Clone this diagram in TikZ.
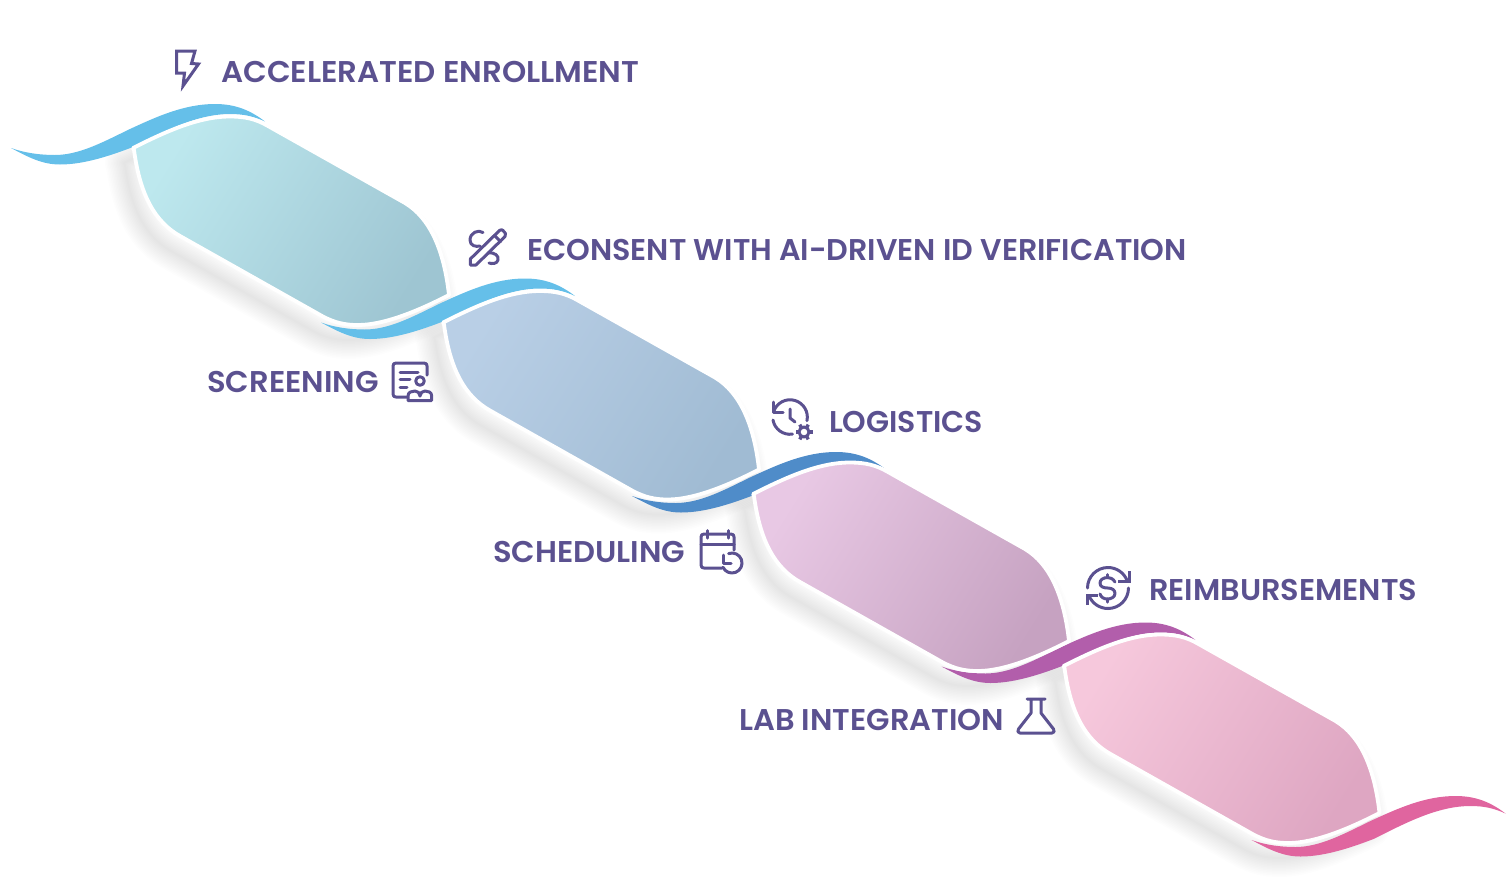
\documentclass[tikz,border=0pt]{standalone}
\usepackage{fontspec}
\setmainfont{Poppins SemiBold}
\definecolor{ink}{HTML}{5B5190}
\definecolor{ra}{HTML}{65BFE9}\definecolor{rb}{HTML}{65BFE9}\definecolor{rc}{HTML}{4F8CC9}\definecolor{rd}{HTML}{B25EAB}\definecolor{re}{HTML}{E0659F}
\definecolor{aa}{HTML}{BDE8EE}\definecolor{ab}{HTML}{9EC5D2}
\definecolor{ba}{HTML}{B9CFE6}\definecolor{bb}{HTML}{A0BBD3}
\definecolor{ca}{HTML}{E8C8E4}\definecolor{cb}{HTML}{C6A2C1}
\definecolor{da}{HTML}{F6C8DC}\definecolor{db}{HTML}{DEA6C2}
\newcommand\blobpath{(133,148) .. controls (165,132) and (198,116.5) .. (230,116.5) .. controls (245,116.5) and (256,119) .. (268,126) -- (405,203) .. controls (430,218) and (444,250) .. (449,295) .. controls (420,310) and (385,325) .. (358,325) .. controls (345,325) and (335,323) .. (322,316) -- (180,236) .. controls (155,222) and (140,195) .. (134,150) -- cycle}
\newcommand\ribbonpath{(11,148) .. controls (28,157) and (42,164.5) .. (60,164.5) .. controls (85,164.5) and (112,155) .. (133,147) .. controls (165,131) and (197,114) .. (230,114) .. controls (243,114) and (253,116) .. (265,121.5) .. controls (250,110) and (235,104) .. (215,104) .. controls (185,104) and (158,116) .. (130,129) .. controls (105,141) and (80,155) .. (55,155) .. controls (40,155) and (25,153) .. (11,148) -- cycle}
\tikzset{
  lab/.style={text=ink,font=\fontsize{30}{32}\selectfont,inner sep=0pt,anchor=base west},
  ico/.style={draw=ink,line width=3pt,line cap=round,line join=round,fill=none},
  blobstyle/.style={draw=white,line width=3.8pt,line join=round,shading=axis,left color=#1a,right color=#1b,shading angle=58},
}
\begin{document}
\begin{tikzpicture}[x=1pt,y=-1pt]
\useasboundingbox (0,0) rectangle (1510,892);
% soft shadows
\foreach \dx/\dy in {0/0,310/174.5,620/346,930.5/518}{
  \begin{scope}[shift={(\dx-9,\dy+15)}]
    \foreach \w in {2,5,...,38}{
      \draw[black,opacity=0.006,line width=\w pt,line join=round] \blobpath;
    }
  \end{scope}
}
% ribbons
\foreach \dx/\dy/\c in {0/0/ra,310/174.5/rb,621/348/rc,930.5/518.5/rd,1240.5/692/re}{
  \begin{scope}[shift={(\dx,\dy)}]
    \fill[\c] \ribbonpath;
  \end{scope}
}
% blobs
\foreach \dx/\dy/\c in {0/0/a,310/174.5/b,620/346/c,930.5/518/d}{
  \begin{scope}[shift={(\dx,\dy)}]
    \path[blobstyle=\c] \blobpath;
  \end{scope}
}
% labels
\node[lab] (accel) at (221,82) {\scalebox{1.029}[1]{ACCELERATED ENROLLMENT}};
\node[lab] (econs) at (527,260) {\scalebox{1.007}[1]{ECONSENT WITH AI-DRIVEN ID VERIFICATION}};
\node[lab] (scree) at (207,392) {\scalebox{1.021}[1]{SCREENING}};
\node[lab] (logis) at (829,432) {LOGISTICS};
\node[lab] (sched) at (493,562) {\scalebox{1.02}[1]{SCHEDULING}};
\node[lab] (reimb) at (1149,600) {\scalebox{1.012}[1]{REIMBURSEMENTS}};
\node[lab] (labin) at (739,730) {\scalebox{1.017}[1]{LAB INTEGRATION}};
% lightning
\draw[ico,line cap=butt,line join=miter] (176.7,51) -- (195,51) -- (191.5,63.5) -- (198.5,64) -- (183,86) -- (184.5,73) -- (176.7,73) -- cycle;
% pen
\draw[ico] (470.3,265) -- (470.3,259) -- (499.5,230.5) .. controls (501,229.5) and (502,229.5) .. (503,230.5) -- (505.5,233.5) .. controls (506,234.5) and (506,235.5) .. (505,236.5) -- (476,265) -- cycle;
\draw[ico] (494.5,235.5) -- (500.5,241.5);
\draw[ico] (483,232.5) .. controls (478,229) and (470,233) .. (470,240) .. controls (470,246) and (476,247) .. (480,246);
\draw[ico] (488,253) .. controls (495,252) and (499,256) .. (498,260) .. controls (497,264) and (492,264) .. (489,263);
% screening
\draw[ico] (407,397) -- (396,397) .. controls (394,397) and (393,396) .. (393,394) -- (393,366) .. controls (393,364) and (394,363) .. (396,363) -- (424,363) .. controls (426,363) and (427,364) .. (427,366) -- (427,375);
\draw[ico] (400,372) -- (418,372) (400,379.5) -- (410,379.5) (400,387) -- (407,387);
\draw[ico] (420,381) circle[radius=4.3];
\draw[ico] (408,400.5) -- (408,396) .. controls (408,392) and (412,391) .. (415,391) .. controls (418,391) and (419.5,393) .. (420,396) .. controls (420.5,393) and (422,391) .. (425,391) .. controls (428,391) and (431.7,392) .. (431.7,396) -- (431.7,400.5) -- cycle;
% logistics
\draw[ico] (773,402) -- (773,412) -- (783,412);
\draw[ico] (773.5,412) arc[start angle=197,end angle=372,radius=17.3];
\draw[ico] (773,420) arc[start angle=170,end angle=82,radius=17.3];
\draw[ico] (790,409) -- (790,418) -- (795,422);
\draw[ico] (804,432) circle[radius=5];
\foreach \a in {0,60,...,300}{
  \draw[draw=ink,line width=3.4pt] ([shift={(\a:5)}]804,432) -- ([shift={(\a:8.5)}]804,432);
}
% scheduling
\draw[ico] (722,568) -- (704,568) .. controls (702,568) and (701,567) .. (701,565) -- (701,537) .. controls (701,535) and (702,534) .. (704,534) -- (731,534) .. controls (733,534) and (734,535) .. (734,537) -- (734,550);
\draw[ico] (701,544) -- (734,544) (707.5,530.5) -- (707.5,538) (728.5,530.5) -- (728.5,538);
\draw[ico] (723,555) -- (723,563) -- (731,563);
\draw[ico] (728.6,553.6) arc[start angle=250,end angle=515,radius=10];
% reimbursements
\draw[ico] (1087.5,588) arc[start angle=180,end angle=338,radius=20.5];
\draw[ico] (1128.5,588) arc[start angle=0,end angle=158,radius=20.5];
\draw[ico,line cap=butt,line join=miter] (1129,571) -- (1129,581) -- (1118,581);
\draw[ico,line cap=butt,line join=miter] (1087,605) -- (1087,595) -- (1098,595);
\draw[ico] (1115,582) .. controls (1113,578.5) and (1110,577.5) .. (1107.7,577.5) .. controls (1103,577.5) and (1100,580) .. (1100,583) .. controls (1100,587) and (1104,588) .. (1107.7,588) .. controls (1112,588) and (1115,590) .. (1115,593.5) .. controls (1115,597) and (1111,599) .. (1107.7,599) .. controls (1104,599) and (1101,597.5) .. (1100,594);
\draw[ico] (1107.7,574.5) -- (1107.7,577.5) (1107.7,599) -- (1107.7,602);
% flask
\draw[ico] (1027,699) -- (1045,699) (1031,699) -- (1031,713) -- (1018.5,729) .. controls (1017,731) and (1018,733) .. (1020,733) -- (1052,733) .. controls (1054,733) and (1055,731) .. (1053.5,729) -- (1041,713) -- (1041,699);
\end{tikzpicture}
\end{document}
